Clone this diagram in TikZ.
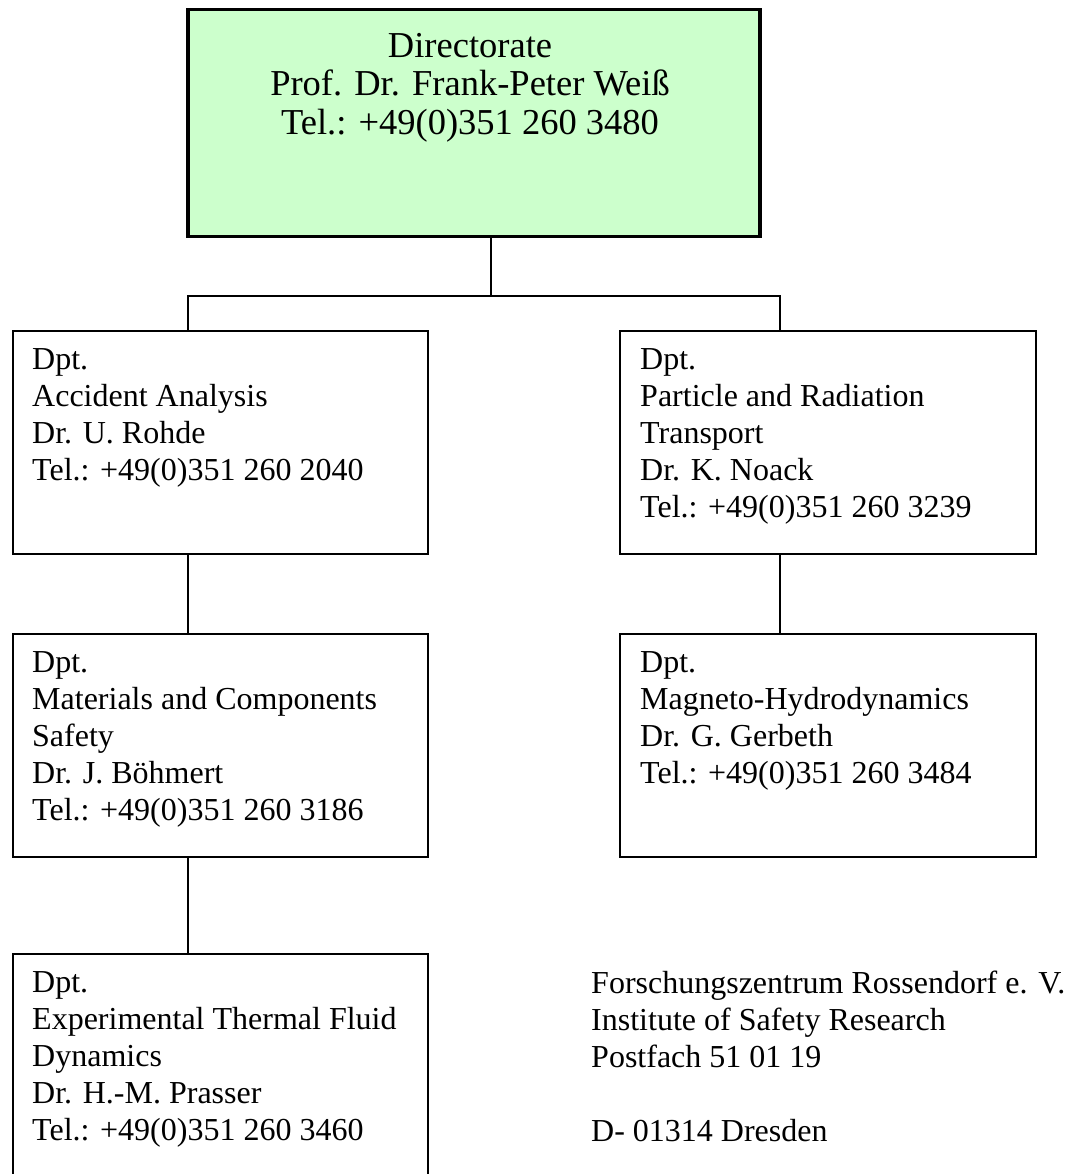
\documentclass[tikz,border=0pt]{standalone}
\usepackage{fontspec}
\setmainfont{Liberation Serif}
\definecolor{dirgreen}{HTML}{CCFFCC}
\tikzset{
  orgbox/.style={draw=black, line width=1.6pt, rectangle, anchor=north west, inner sep=0pt},
  dirbox/.style={draw=black, fill=dirgreen, line width=3.5pt, rectangle, anchor=north west, inner sep=0pt},
  boxtext/.style={anchor=north west, inner sep=0pt, align=left,
    font=\fontsize{32}{37}\selectfont},
  dirtext/.style={anchor=north, inner sep=0pt, align=center,
    font=\fontsize{36.5}{38.5}\selectfont},
  link/.style={draw=black, line width=1.3pt}
}
\begin{document}
\begin{tikzpicture}[x=1pt,y=-1pt]
\useasboundingbox (0,0) rectangle (1068,1174);
\clip (0,0) rectangle (1068,1174);

% department boxes
\node[dirbox, minimum width=572pt, minimum height=227pt] (dir) at (186,8) {};
\node[orgbox, minimum width=415pt, minimum height=223pt] (l1) at (12,330) {};
\node[orgbox, minimum width=416pt, minimum height=223pt] (r1) at (619,330) {};
\node[orgbox, minimum width=415pt, minimum height=223pt] (l2) at (12,633) {};
\node[orgbox, minimum width=416pt, minimum height=223pt] (r2) at (619,633) {};
\node[orgbox, minimum width=415pt, minimum height=250pt] (l3) at (12,953) {};

% box contents
\node[dirtext] (dirt) at (470,33) {Directorate\\Prof. Dr. Frank-Peter Weiß\\Tel.: +49(0)351 260 3480};
\node[boxtext] (l1t) at (32,348) {Dpt.\\Accident Analysis\\Dr. U. Rohde\\Tel.: +49(0)351 260 2040};
\node[boxtext] (r1t) at (640,348) {Dpt.\\Particle and Radiation\\Transport\\Dr. K. Noack\\Tel.: +49(0)351 260 3239};
\node[boxtext] (l2t) at (32,651) {Dpt.\\Materials and Components\\Safety\\Dr. J. Böhmert\\Tel.: +49(0)351 260 3186};
\node[boxtext] (r2t) at (640,651) {Dpt.\\Magneto-Hydrodynamics\\Dr. G. Gerbeth\\Tel.: +49(0)351 260 3484};
\node[boxtext] (l3t) at (32,971) {Dpt.\\Experimental Thermal Fluid\\Dynamics\\Dr. H.-M. Prasser\\Tel.: +49(0)351 260 3460};
\node[boxtext] (addr) at (591,971) {Forschungszentrum Rossendorf e. V.\\Institute of Safety Research\\Postfach 51 01 19\\[37pt]D- 01314 Dresden};

% connectors
\coordinate (busM) at (491,296);
\coordinate (busL) at (188,296);
\coordinate (busR) at (780,296);
\draw[link] (busM |- dir.south) -- (busM);
\draw[link] (busL |- l1.north) -- (busL) -- (busR) -- (busR |- r1.north);
\draw[link] (busL |- l1.south) -- (busL |- l2.north);
\draw[link] (busR |- r1.south) -- (busR |- r2.north);
\draw[link] (busL |- l2.south) -- (busL |- l3.north);
\end{tikzpicture}
\end{document}
